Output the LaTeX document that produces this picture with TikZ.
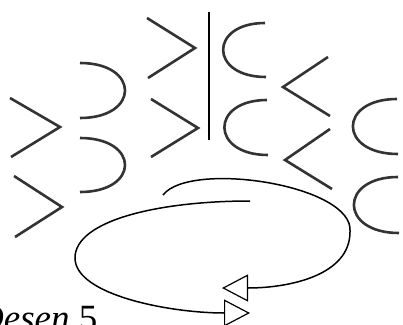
\documentclass[tikz,border=0pt]{standalone}
\usepackage{fontspec}
\setmainfont{Liberation Serif}
\usetikzlibrary{arrows.meta}

\begin{document}
\begin{tikzpicture}[x=1pt, y=-1pt,
    stroke/.style={line width=2.6pt, black!80, line join=miter},
    loopline/.style={line width=1.5pt, -{Triangle[open, length=26pt, width=27pt, line width=1.2pt]}}]
    \useasboundingbox (0,0) rectangle (403,324);

    % Left column: two chevrons and two bows
    \draw[stroke] (10,98) -- (60,127) -- (11,157);
    \draw[stroke] (14,176) -- (62,207) -- (15,237);
    \draw[stroke] (80,63) .. controls (140,63) and (140,118) .. (80,118);
    \draw[stroke] (80,138) .. controls (140,138) and (140,192) .. (80,192);

    % Middle column
    \draw[stroke] (147,18) -- (195,48) -- (148,78);
    \draw[stroke] (151,99) -- (198,128) -- (151,157);
    \draw[line width=1.5pt] (209,12) -- (209,140);
    \draw[stroke] (265,23) .. controls (209,23) and (209,77) .. (266,77);
    \draw[stroke] (267,100) .. controls (210,100) and (210,155) .. (268,155);

    % Right column
    \draw[stroke] (328,57) -- (283,87) -- (330,116);
    \draw[stroke] (330,129) -- (285,160) -- (332,189);
    \draw[stroke] (397,99) .. controls (338,99) and (338,154) .. (398,154);
    \draw[stroke] (398,177) .. controls (339,177) and (339,233) .. (399,233);

    % Loop with the two open heads
    \coordinate (upstart) at (163,195);
    \coordinate (upright) at (350,232);
    \coordinate (uptip) at (222,288);
    \draw[loopline] (upstart) .. controls (190,160) and (355,185) .. (upright)
        .. controls (350,275) and (290,288) .. (uptip);

    \coordinate (lowstart) at (250,201);
    \coordinate (lowleft) at (75,258);
    \coordinate (lowtip) at (250,313);
    \draw[loopline] (lowstart) .. controls (160,201) and (75,220) .. (lowleft)
        .. controls (75,295) and (170,313) .. (lowtip);

    % Caption
    \node[anchor=base west, inner sep=0pt, font=\fontsize{37}{37}\selectfont] (caption)
        at (-23,330) {\textit{Desen} 5};
\end{tikzpicture}
\end{document}
